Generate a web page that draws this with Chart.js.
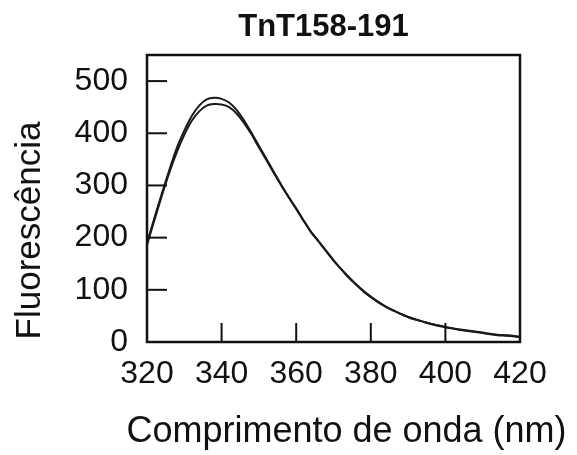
<!DOCTYPE html>
<html>
<head>
<meta charset="utf-8">
<script src="https://cdn.jsdelivr.net/npm/chart.js@4.4.1/dist/chart.umd.min.js"></script>
<style>
  html, body { margin: 0; padding: 0; background: #fff; }
  #wrap { width: 577px; height: 455px; }
</style>
</head>
<body>
<div id="wrap"><canvas id="c" width="577" height="455"></canvas></div>
<script>
// wavelength (nm)
const wavelengths = [320,322,324,326,328,330,332,334,336,338,340,342,344,346,348,350,352,354,356,358,
  360,362,364,366,368,370,372,374,376,378,380,382,384,386,388,390,392,394,396,398,
  400,402,404,406,408,410,412,414,416,418,420];

// two nearly identical emission spectra
const spectrumA = [190,238,285,330,372,405,433,453,465,468,466,459,445,425,401,376,351,326,301,278,
  256,233,211,193,175,157,140,125,111,98,87,77,68,61,54,48,43,39,35,32,
  29,26,24,22,20,18,16,14,13,12,10];
const spectrumB = [186,234,281,325,364,397,424,442,453,456,455,450,438,420,398,373,349,324,300,277,
  255,232,210,193,174,156,140,124,110,97,86,76,68,60,54,48,43,39,35,31,
  28,26,23,21,19,17,15,13,12,11,9];

const xTicks = [320, 340, 360, 380, 400, 420];
const yTicks = [0, 100, 200, 300, 400, 500];

const chartTitle = 'TnT158-191';
const yTitle = 'Fluorescência';
const xTitle = 'Comprimento de onda (nm)';

const FONT = '"Liberation Sans", Arial, Helvetica, sans-serif';

const toPoints = vals => wavelengths.map((w, i) => ({ x: w, y: vals[i] }));

// frame, inward ticks, title over the plot and the axis titles
const framePlugin = {
  id: 'frame',
  afterDraw(chart) {
    const { ctx, chartArea: a, scales } = chart;
    ctx.save();
    ctx.strokeStyle = '#111';
    ctx.lineWidth = 2;
    scales.x.ticks.forEach(t => {
      const px = scales.x.getPixelForValue(t.value);
      ctx.beginPath();
      ctx.moveTo(px, a.bottom);
      ctx.lineTo(px, a.bottom - 19);
      ctx.stroke();
    });
    scales.y.ticks.forEach(t => {
      const py = scales.y.getPixelForValue(t.value);
      ctx.beginPath();
      ctx.moveTo(a.left, py);
      ctx.lineTo(a.left + 20, py);
      ctx.stroke();
    });
    ctx.lineWidth = 2.5;
    ctx.strokeRect(a.left, a.top, a.right - a.left, a.bottom - a.top);

    ctx.fillStyle = '#111';
    ctx.textAlign = 'center';
    ctx.textBaseline = 'middle';
    ctx.font = 'bold 31px ' + FONT;
    ctx.fillText(chartTitle, (a.left + a.right) / 2 - 10, 27);

    ctx.font = '36px ' + FONT;
    ctx.fillText(xTitle, (a.left + a.right) / 2 + 13, a.bottom + 90);

    ctx.translate(30, (a.top + a.bottom) / 2 + 32);
    ctx.rotate(-Math.PI / 2);
    ctx.font = '35px ' + FONT;
    ctx.fillText(yTitle, 0, 0);
    ctx.restore();
  }
};

new Chart(document.getElementById('c'), {
  type: 'line',
  data: {
    datasets: [
      { label: 'A', data: toPoints(spectrumA), borderColor: '#1a1a1a', borderWidth: 2, pointRadius: 0, tension: 0.2, fill: false },
      { label: 'B', data: toPoints(spectrumB), borderColor: '#1a1a1a', borderWidth: 2, pointRadius: 0, tension: 0.2, fill: false }
    ]
  },
  options: {
    responsive: false,
    animation: false,
    layout: { padding: { left: 0, right: 57, top: 55, bottom: 0 } },
    plugins: {
      legend: { display: false },
      tooltip: { enabled: false },
      title: { display: false }
    },
    scales: {
      x: {
        type: 'linear',
        min: 320,
        max: 420,
        afterBuildTicks: s => { s.ticks = xTicks.map(v => ({ value: v })); },
        afterFit: s => { s.height = 113; },
        grid: { display: false },
        border: { display: false },
        ticks: { color: '#111', padding: 5, maxRotation: 0, font: { family: FONT, size: 32 } }
      },
      y: {
        min: 0,
        max: 550,
        afterBuildTicks: s => { s.ticks = yTicks.map(v => ({ value: v })); },
        afterFit: s => { s.width = 147; },
        grid: { display: false },
        border: { display: false },
        ticks: { color: '#111', padding: 11, font: { family: FONT, size: 32 } }
      }
    }
  },
  plugins: [framePlugin]
});
</script>
</body>
</html>
